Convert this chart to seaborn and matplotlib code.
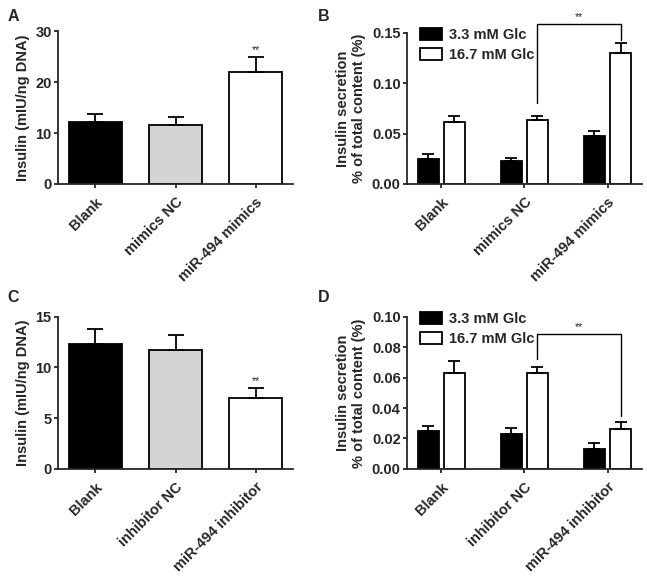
import matplotlib
matplotlib.use('Agg')
import matplotlib.pyplot as plt
import pandas as pd
import seaborn as sns

# Panel A: insulin content after mimics transfection
groups_a = ['Blank', 'mimics NC', 'miR-494 mimics']
insulin_a = [12.2, 11.6, 22.0]
insulin_a_err = [1.6, 1.5, 3.0]

# Panel C: insulin content after inhibitor transfection
groups_c = ['Blank', 'inhibitor NC', 'miR-494 inhibitor']
insulin_c = [12.3, 11.7, 7.0]
insulin_c_err = [1.5, 1.5, 1.0]

# Panels B/D: glucose-stimulated insulin secretion
glc_levels = ['3.3 mM Glc', '16.7 mM Glc']
secretion_b_low = [0.025, 0.023, 0.048]
secretion_b_low_err = [0.005, 0.003, 0.005]
secretion_b_high = [0.062, 0.064, 0.130]
secretion_b_high_err = [0.006, 0.004, 0.010]

secretion_d_low = [0.025, 0.023, 0.013]
secretion_d_low_err = [0.003, 0.004, 0.004]
secretion_d_high = [0.063, 0.063, 0.026]
secretion_d_high_err = [0.008, 0.004, 0.005]

sns.set_style('ticks')
plt.rcParams['font.family'] = ['Liberation Sans', 'DejaVu Sans']
plt.rcParams['font.weight'] = 'bold'
plt.rcParams['axes.labelweight'] = 'bold'
plt.rcParams['font.size'] = 10.5

LW = 1.3
FS = 10.5


def style_axis(ax, ylim, yticks, ylabel):
    ax.set_ylim(*ylim)
    ax.set_yticks(yticks)
    ax.set_xlabel('')
    ax.set_ylabel(ylabel, fontsize=FS, fontweight='bold', labelpad=4)
    sns.despine(ax=ax)
    for s in ['left', 'bottom']:
        ax.spines[s].set_linewidth(LW)
    ax.tick_params(direction='out', length=3, width=LW, labelsize=FS, pad=1.5)
    ax.tick_params(axis='x', pad=5)
    for lab in ax.get_xticklabels():
        lab.set_rotation(45)
        lab.set_ha('right')
        lab.set_rotation_mode('anchor')
        lab.set_fontweight('bold')
    for lab in ax.get_yticklabels():
        lab.set_fontweight('bold')


def add_errs(ax, bars, errs):
    for bar, err in zip(bars, errs):
        xc = bar.get_x() + bar.get_width() / 2
        top = bar.get_height()
        cap = 6 if bar.get_width() > 0.4 else 4
        ax.errorbar(xc, top, yerr=[[0], [err]], color='black', lw=LW,
                    capsize=cap, capthick=LW, zorder=1)


def single_panel(ax, groups, vals, errs, ylim, yticks, star_idx, star_off):
    df = pd.DataFrame({'group': groups, 'value': vals})
    sns.barplot(data=df, x='group', y='value', hue='group',
                palette=['black', '#d4d4d4', 'white'], edgecolor='black',
                linewidth=LW, width=0.67, errorbar=None, legend=False, ax=ax)
    bars = list(ax.patches)
    add_errs(ax, bars, errs)
    b = bars[star_idx]
    ax.text(b.get_x() + b.get_width() / 2, vals[star_idx] + errs[star_idx] + star_off,
            '**', ha='center', va='bottom', fontsize=7.5, fontweight='normal')
    style_axis(ax, ylim, yticks, 'Insulin (mIU/ng DNA)')


def grouped_panel(ax, groups, low, low_err, high, high_err, ylim, yticks, bracket):
    df = pd.DataFrame({'group': groups * 2,
                       'glc': [glc_levels[0]] * 3 + [glc_levels[1]] * 3,
                       'value': low + high})
    sns.barplot(data=df, x='group', y='value', hue='glc',
                palette=['black', 'white'], edgecolor='black', linewidth=LW,
                width=0.63, gap=0.2, errorbar=None, ax=ax)
    conts = list(ax.containers)
    add_errs(ax, conts[0], low_err)
    add_errs(ax, conts[1], high_err)
    handles, labels = ax.get_legend_handles_labels()
    ax.legend(handles, labels, loc='upper left', bbox_to_anchor=(0.03, 1.07),
              frameon=False, handlelength=1.5, handleheight=0.85,
              labelspacing=0.4, handletextpad=0.5, borderaxespad=0,
              prop={'weight': 'bold', 'size': FS})
    # significance bracket between the 16.7 mM bars
    y_left, y_top, y_right, y_star = bracket
    b1, b2 = conts[1][1], conts[1][2]
    x1 = b1.get_x() + b1.get_width() / 2
    x2 = b2.get_x() + b2.get_width() / 2
    ax.plot([x1, x1, x2, x2], [y_left, y_top, y_top, y_right], color='black',
            lw=1.0, clip_on=False)
    ax.text((x1 + x2) / 2, y_star, '**', ha='center', va='bottom', fontsize=7.5,
            fontweight='normal', clip_on=False)
    style_axis(ax, ylim, yticks, 'Insulin secretion\n% of total content (%)')


fig = plt.figure(figsize=(6.47, 5.76), dpi=100)
ax_a = fig.add_axes([0.0896, 0.6806, 0.3634, 0.2654])
ax_b = fig.add_axes([0.629, 0.6806, 0.363, 0.2622])
ax_c = fig.add_axes([0.0896, 0.186, 0.3634, 0.264])
ax_d = fig.add_axes([0.629, 0.186, 0.363, 0.264])

single_panel(ax_a, groups_a, insulin_a, insulin_a_err, (0, 30), [0, 10, 20, 30], 2, 0.3)
single_panel(ax_c, groups_c, insulin_c, insulin_c_err, (0, 15), [0, 5, 10, 15], 2, 0.15)
grouped_panel(ax_b, groups_a, secretion_b_low, secretion_b_low_err,
              secretion_b_high, secretion_b_high_err, (0, 0.15),
              [0, 0.05, 0.10, 0.15], (0.080, 0.159, 0.143, 0.161))
grouped_panel(ax_d, groups_c, secretion_d_low, secretion_d_low_err,
              secretion_d_high, secretion_d_high_err, (0, 0.10),
              [0, 0.02, 0.04, 0.06, 0.08, 0.10], (0.072, 0.089, 0.035, 0.090))

for letter, x, y in [('A', 0.012, 0.985), ('B', 0.492, 0.985),
                     ('C', 0.012, 0.497), ('D', 0.492, 0.497)]:
    fig.text(x, y, letter, fontsize=11.5, fontweight='bold', va='top', ha='left')

fig.savefig('out.png', dpi=100)
